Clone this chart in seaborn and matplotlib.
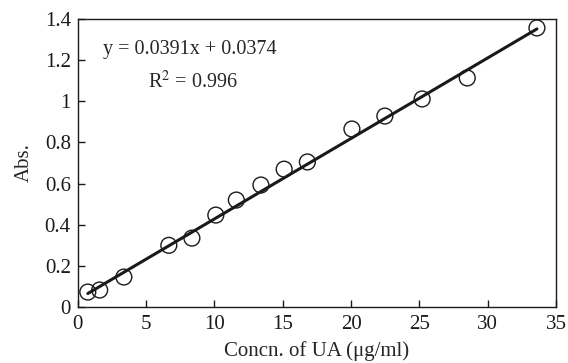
import matplotlib
matplotlib.use("Agg")
import matplotlib.pyplot as plt
import matplotlib.ticker as mticker
import seaborn as sns
import pandas as pd

# calibration data
concn = [0.73, 1.6, 3.37, 6.66, 8.35, 10.1, 11.6, 13.4, 15.1, 16.8, 20.06, 22.47, 25.2, 28.5, 33.6]
absorb = [0.073, 0.083, 0.146, 0.30, 0.335, 0.447, 0.52, 0.593, 0.67, 0.705, 0.865, 0.928, 1.011, 1.113, 1.356]
slope = 0.0391
intercept = 0.0374
x_ticks = [0, 5, 10, 15, 20, 25, 30, 35]
y_ticks = [0, 0.2, 0.4, 0.6, 0.8, 1.0, 1.2, 1.4]

df = pd.DataFrame({"x": concn, "y": absorb})
fit = pd.DataFrame({"x": [min(concn), max(concn)]})
fit["y"] = slope * fit["x"] + intercept

sns.set_style("ticks")
plt.rcParams["font.family"] = ["Liberation Serif", "DejaVu Serif"]
plt.rcParams["mathtext.fontset"] = "stix"

fig = plt.figure(figsize=(5.68, 3.63), dpi=100)
ax = fig.add_axes([0.137, 0.154, 0.842, 0.794])

sns.lineplot(data=fit, x="x", y="y", ax=ax, color="#1a1a1a", linewidth=2.2)
sns.scatterplot(data=df, x="x", y="y", ax=ax, marker="o", s=130,
                facecolor="none", edgecolor="#1a1a1a", linewidth=1.0, zorder=3)

ax.set_xlim(0, 35)
ax.set_ylim(0, 1.4)
ax.set_xticks(x_ticks)
ax.set_yticks(y_ticks)
ax.yaxis.set_major_formatter(mticker.FormatStrFormatter("%g"))
ax.tick_params(direction="in", length=5, width=1, labelsize=15, colors="#1a1a1a")
ax.tick_params(axis="x", pad=6)
ax.tick_params(axis="y", pad=5)
for sp in ax.spines.values():
    sp.set_linewidth(1.0)
    sp.set_color("#1a1a1a")

ax.set_xlabel("Concn. of UA (μg/ml)", fontsize=15, labelpad=5)
ax.set_ylabel("Abs.", fontsize=15, labelpad=8)

ax.text(0.235, 0.895, "y = 0.0391x + 0.0374", transform=ax.transAxes,
        ha="center", va="center", fontsize=14.5)
ax.text(0.24, 0.78, "R$^2$ = 0.996", transform=ax.transAxes,
        ha="center", va="center", fontsize=14.5)

fig.savefig("out.png", dpi=100)
